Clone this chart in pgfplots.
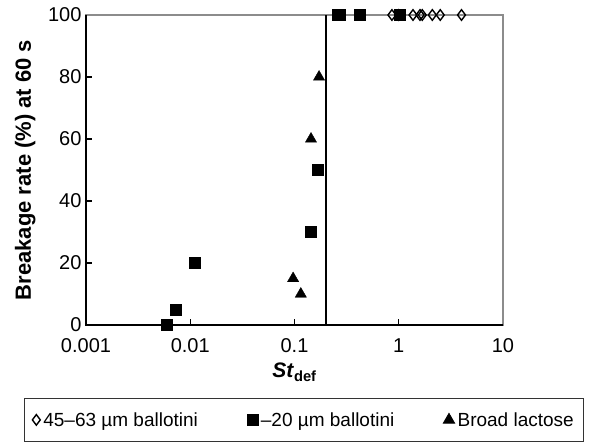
\documentclass[border=0pt]{standalone}
\usepackage{pgfplots}
\pgfplotsset{compat=1.18}
\usepackage{fontspec}
\setmainfont{Liberation Sans}
\definecolor{framegray}{RGB}{140,140,140}
\begin{document}
\begin{tikzpicture}[font=\fontsize{20bp}{24bp}\selectfont]
\begin{axis}[
  scale only axis,
  width=417bp, height=310bp,
  xmode=log,
  xmin=0.001, xmax=10,
  ymin=0, ymax=100,
  xtick={0.001,0.01,0.1,1,10},
  xticklabels={0.001,0.01,0.1,1,10},
  ytick={0,20,40,60,80,100},
  xminorticks=false,
  tick align=inside,
  xtick pos=bottom, ytick pos=left,
  major tick length=6bp,
  tick style={black, line width=1.2bp},
  axis line style={framegray, line width=1.4bp},
  /pgf/number format/assume math mode=true,
  tick label style={font=\fontsize{20bp}{24bp}\selectfont},
  xticklabel style={yshift=-10bp},
  yticklabel style={xshift=-1bp},
  xlabel={\textbf{\textit{St}\textsubscript{\upshape def}}},
  ylabel={\textbf{Breakage rate (\%) at 60 s}},
  xlabel style={at={(axis description cs:0.5,-0.152)}, anchor=center, font=\fontsize{21bp}{24bp}\selectfont},
  ylabel style={at={(axis description cs:-0.146,0.5)}, anchor=center, font=\fontsize{22bp}{26bp}\selectfont},
  clip=false,
  legend columns=3,
  legend cell align=left,
  legend style={at={(axis description cs:0.523,-0.235)}, anchor=north,
    draw=black!80, line width=0.8bp, inner xsep=8bp, inner ysep=12bp,
    font=\fontsize{19bp}{22bp}\selectfont,
    /tikz/every even column/.append style={column sep=47bp},
    /tikz/every odd column/.append style={column sep=1bp}},
  legend image code/.code={\draw[#1] plot coordinates {(0bp,0bp)};},
]
\draw[black, line width=1.8bp] (rel axis cs:0,1) -- (rel axis cs:0,0) -- (rel axis cs:1,0);
\addplot[black, line width=1.4bp, forget plot] coordinates {(0.2,0) (0.2,100)};
\addplot[only marks, mark=diamond, mark size=5.3bp, mark options={fill=white, draw=black, line width=1.4bp}]
  coordinates {(0.86,100) (1.0,100) (1.37,100) (1.6,100) (1.68,100) (2.1,100) (2.5,100) (4.0,100)};
\addlegendentry{45--63 µm ballotini}
\addplot[only marks, mark=square*, mark size=5.5bp, mark options={fill=black, draw=black}]
  coordinates {(0.006,0) (0.0072,5) (0.011,20) (0.144,30) (0.168,50) (0.26,100) (0.27,100) (0.42,100) (1.03,100)};
\addlegendentry{--20 µm ballotini}
\addplot[only marks, mark=triangle*, mark size=6.5bp, mark options={fill=black, draw=black}]
  coordinates {(0.097,15) (0.115,10) (0.144,60) (0.172,80)};
\addlegendentry{Broad lactose}
\end{axis}
\pgfresetboundingbox
\useasboundingbox (-86bp,-118bp) rectangle (507bp,325bp);
\end{tikzpicture}
\end{document}
